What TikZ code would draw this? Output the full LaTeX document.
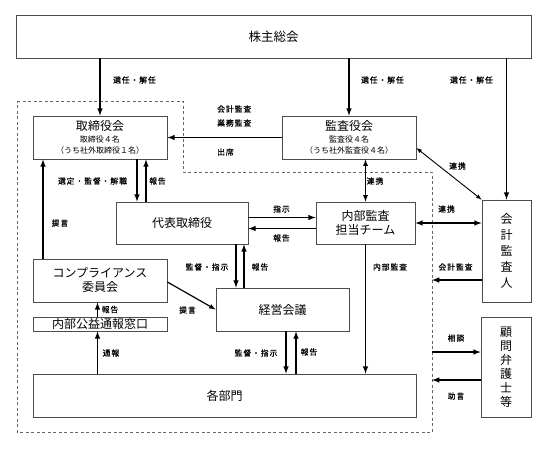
\documentclass[tikz,border=0pt]{standalone}
\usepackage{fontspec}
\setmainfont{Noto Sans CJK JP}
\newfontfamily\lblfont[LetterSpace=12,FakeBold=0.6]{Noto Sans CJK JP}
\usetikzlibrary{arrows,calc}
\tikzset{
	box/.style={draw=black!70, line width=0.8pt, fill=white, inner sep=0pt, align=center, font=\fontsize{12}{14}\selectfont},
	lbl/.style={inner sep=0pt, font=\lblfont\fontsize{7.8}{9}\selectfont},
	arr/.style={->, line width=1.5pt},
	bound/.style={draw=black!60, line width=0.8pt, dash pattern=on 3pt off 2.5pt},
}
\begin{document}
\begin{tikzpicture}[>=latex, x=1pt, y=-1pt]
		\useasboundingbox (0,0) rectangle (554,472);
		%Bereich
		\coordinate (b1) at (17,101);
		\coordinate (b2) at (183,101);
		\coordinate (b3) at (183,172);
		\coordinate (b4) at (432,172);
		\coordinate (b5) at (432,432);
		\coordinate (b6) at (17,432);
		\draw [bound] (b1) -- (b2) -- (b3) -- (b4) -- (b5) -- (b6) -- cycle;
		%Boxen
		\node [box, minimum width=515, minimum height=43, font=\fontsize{12.5}{14}\selectfont] (souk) at (273.5,36.5) {株主総会};
		\node [box, minimum width=134, minimum height=43, font=\fontsize{8}{11.5}\selectfont] (tori) at (100,137.5) {{\fontsize{12}{14}\selectfont 取締役会}\\取締役４名\\（うち社外取締役１名）};
		\node [box, minimum width=134, minimum height=43, font=\fontsize{8}{11.5}\selectfont] (kansa) at (349,137.5) {{\fontsize{12}{14}\selectfont 監査役会}\\監査役４名\\（うち社外監査役４名）};
		\node [box, minimum width=132, minimum height=42] (dai) at (182,223) {代表取締役};
		\node [box, minimum width=99, minimum height=42, font=\fontsize{12}{13.5}\selectfont] (naibu) at (365.5,223) {内部監査\\担当チーム};
		\node [box, minimum width=49, minimum height=102, font=\fontsize{12}{16}\selectfont] (kaikei) at (506.5,251) {会\\計\\監\\査\\人};
		\node [box, minimum width=134, minimum height=43, font=\fontsize{12}{14}\selectfont] (comp) at (100,280.5) {コンプライアンス\\委員会};
		\node [box, minimum width=133, minimum height=43] (keiei) at (282.5,309.5) {経営会議};
		\node [box, minimum width=134, minimum height=14] (madoguchi) at (100,324) {内部公益通報窓口};
		\node [box, minimum width=383, minimum height=43] (kaku) at (224.5,395.5) {各部門};
		\node [box, minimum width=50, minimum height=100, font=\fontsize{12}{14}\selectfont] (komon) at (506,367) {顧\\問\\弁\\護\\士\\等};
		%Aktionaere
		\draw [arr] (souk.south -| tori.north) -- (tori.north);
		\draw [arr] (souk.south -| kansa.north) -- (kansa.north);
		\draw [arr] (souk.south -| kaikei.north) -- (kaikei.north);
		\node [lbl] (s1) at (134.5,80) {選任・解任};
		\node [lbl] (s2) at (382.5,80) {選任・解任};
		\node [lbl] (s3) at (471.5,80) {選任・解任};
		%Kansa
		\draw [arr] (kansa.west) -- (tori.east);
		\node [lbl, anchor=west] (k1) at (217,109) {会計監査};
		\node [lbl, anchor=west] (k2) at (217,123) {業務監査};
		\node [lbl, anchor=west] (k3) at (217,152) {出席};
		\draw [<->, line width=1.2pt] (kansa.south -| naibu.north) -- (naibu.north);
		\node [lbl] (k4) at (375,181) {連携};
		\draw [<->, line width=0.9pt] ([yshift=-10.5pt]kansa.east) -- (kaikei.north west);
		\node [lbl] (k5) at (457.5,166) {連携};
		%Torishimari
		\coordinate (td1) at ([xshift=-45pt]dai.north);
		\coordinate (td2) at ([xshift=-36pt]dai.north);
		\draw [arr] (td1 |- tori.south) -- (td1);
		\draw [arr] (td2) -- (td2 |- tori.south);
		\node [lbl] (t1) at (92.5,181) {選定・監督・解職};
		\node [lbl] (t2) at (157.5,181) {報告};
		%Daihyo
		\coordinate (dn1) at ([yshift=5.5pt]dai.east);
		\coordinate (dn2) at ([yshift=-5.5pt]naibu.west);
		\draw [arr] (dn1) -- (dn1 -| naibu.west);
		\draw [arr] (dn2) -- (dn2 -| dai.east);
		\node [lbl] (d1) at (281.5,209) {指示};
		\node [lbl] (d2) at (281.5,238) {報告};
		\draw [<->, line width=1.5pt] (naibu.east) -- (naibu.east -| kaikei.west);
		\node [lbl] (d3) at (446.5,209) {連携};
		\coordinate (dk1) at ([xshift=54pt]dai.south);
		\coordinate (dk2) at ([xshift=62pt]dai.south);
		\draw [arr] (dk1) -- (dk1 |- keiei.north);
		\draw [arr] (dk2 |- keiei.north) -- (dk2);
		\node [lbl] (d4) at (207,267) {監督・指示};
		\node [lbl] (d5) at (260,267) {報告};
		%Compliance
		\coordinate (ct) at ([xshift=-57pt]comp.north);
		\draw [arr] (ct) -- (ct |- tori.south);
		\node [lbl] (c1) at (60,223) {提言};
		\draw [arr, line width=1.2pt] ([yshift=-1.5pt]comp.east) -- (keiei.west);
		\node [lbl] (c2) at (187.5,310) {提言};
		\coordinate (mc) at ([xshift=-2.5pt]madoguchi.north);
		\draw [arr] (mc) -- (mc |- comp.south);
		\node [lbl] (c3) at (110,309.5) {報告};
		\draw [arr] (kaku.north -| mc) -- (mc |- madoguchi.south);
		\node [lbl] (c4) at (111,353) {通報};
		%Keiei
		\coordinate (kk1) at ([xshift=3.5pt]keiei.south);
		\coordinate (kk2) at ([xshift=13.5pt]keiei.south);
		\draw [arr] (kk1) -- (kk1 |- kaku.north);
		\draw [arr] (kk2 |- kaku.north) -- (kk2);
		\node [lbl] (e1) at (256,353) {監督・指示};
		\node [lbl] (e2) at (309,352) {報告};
		\draw [arr] (naibu.south) -- (naibu.south |- kaku.north);
		\node [lbl] (e3) at (390,267) {内部監査};
		%Aussen
		\coordinate (kb) at ([yshift=-29pt]kaikei.west);
		\draw [arr] (kb) -- (kb -| b4);
		\node [lbl] (a1) at (455.5,267) {会計監査};
		\coordinate (ks) at ([yshift=15pt]komon.west);
		\coordinate (kj) at ([yshift=-13pt]komon.west);
		\draw [arr] (ks -| b4) -- (ks);
		\draw [arr] (kj) -- (kj -| b4);
		\node [lbl] (a2) at (456,338) {相談};
		\node [lbl] (a3) at (456,396) {助言};
		\end{tikzpicture}
\end{document}
